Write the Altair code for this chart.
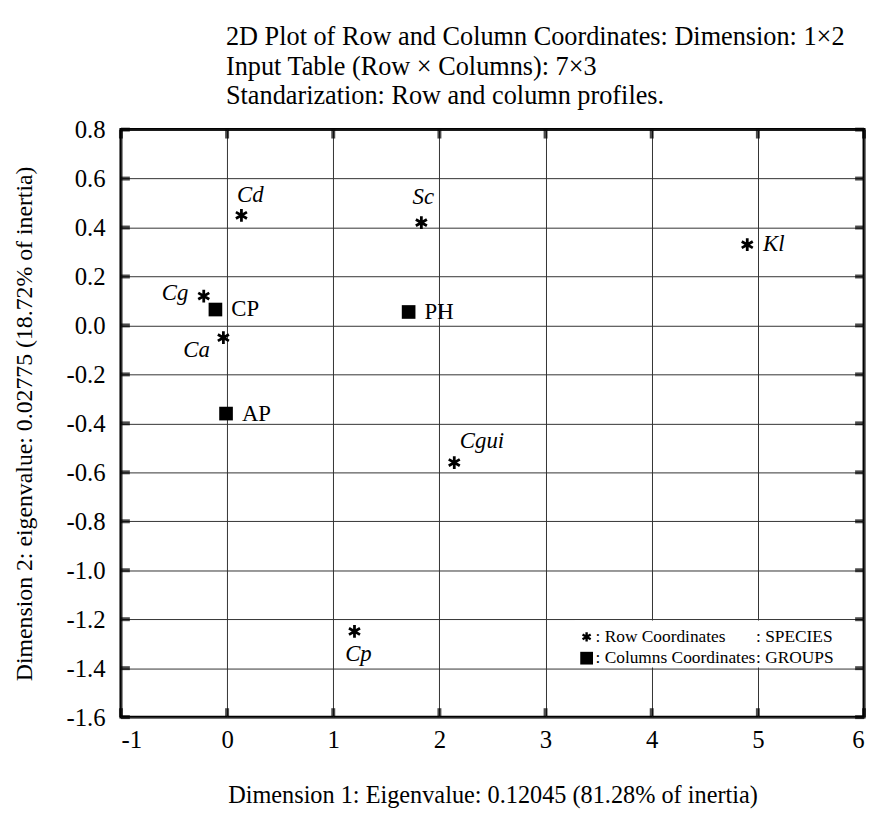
import altair as alt
import pandas as pd

# ---- data ----
species = ["Cd", "Sc", "Kl", "Cg", "Ca", "Cgui", "Cp"]
sp_x = [0.135, 1.83, 4.90, -0.22, -0.035, 2.14, 1.20]
sp_y = [0.45, 0.42, 0.33, 0.12, -0.05, -0.56, -1.25]

groups = ["CP", "PH", "AP"]
gr_x = [-0.11, 1.71, -0.01]
gr_y = [0.065, 0.055, -0.36]

x_ticks = [-1, 0, 1, 2, 3, 4, 5, 6]
y_ticks = [-1.6, -1.4, -1.2, -1.0, -0.8, -0.6, -0.4, -0.2, 0.0, 0.2, 0.4, 0.6, 0.8]

title_lines = [
    "2D Plot of Row and Column Coordinates: Dimension: 1\u00d72",
    "Input Table (Row \u00d7 Columns): 7\u00d73",
    "Standarization: Row and column profiles.",
]
x_title = "Dimension 1: Eigenvalue: 0.12045 (81.28% of inertia)"
y_title = "Dimension 2: eigenvalue: 0.02775 (18.72% of inertia)"
legend_row1 = [": Row Coordinates", ": SPECIES"]
legend_row2 = [": Columns Coordinates", ": GROUPS"]

# ---- layout / style ----
W, H = 750, 593
FONT = "Liberation Serif"
ASTERISK = "M0,-1L0,1M-0.866,-0.5L0.866,0.5M-0.866,0.5L0.866,-0.5"

sp_df = pd.DataFrame({"x": sp_x, "y": sp_y, "name": species})
gr_df = pd.DataFrame({"x": gr_x, "y": gr_y, "name": groups})
xt_df = pd.DataFrame({"x": x_ticks})
yt_df = pd.DataFrame({"y": y_ticks})

xscale = alt.Scale(domain=[-1, 6], nice=False, zero=False)
yscale = alt.Scale(domain=[-1.6, 0.8], nice=False, zero=False)

x_axis = alt.Axis(
    values=x_ticks, grid=True, gridColor="#333", gridWidth=1, gridOpacity=1,
    domain=False, ticks=False, tickSize=0, labelPadding=11,
    labelFont=FONT, labelFontSize=25, labelColor="black",
    labelExpr="(datum.value < 0 ? '-' : '') + format(abs(datum.value), 'd')",
    title=x_title, titleFont=FONT, titleFontSize=24.5, titleFontWeight="normal",
    titleColor="black", titlePadding=31,
)
y_axis = alt.Axis(
    values=y_ticks, grid=True, gridColor="#333", gridWidth=1, gridOpacity=1,
    domain=False, ticks=False, tickSize=0, labelPadding=16,
    labelFont=FONT, labelFontSize=25, labelColor="black",
    labelExpr="(datum.value < -0.001 ? '-' : '') + format(abs(datum.value), '.1f')",
    title=y_title, titleFont=FONT, titleFontSize=24, titleFontWeight="normal",
    titleColor="black", titlePadding=30,
)

X = alt.X("x:Q", scale=xscale, axis=x_axis)
Y = alt.Y("y:Q", scale=yscale, axis=y_axis)

one = pd.DataFrame({"a": [0]})

legend_bg = alt.Chart(one).mark_rect(color="white").encode(
    x=alt.value(458), x2=alt.value(748), y=alt.value(495.5), y2=alt.value(543)
)

tick_style = dict(color="black", thickness=4)
left_ticks = alt.Chart(yt_df).mark_tick(size=9, **tick_style).encode(y=Y, x=alt.value(4.5))
right_ticks = alt.Chart(yt_df).mark_tick(size=9, **tick_style).encode(y=Y, x=alt.value(W - 4.5))
bottom_ticks = alt.Chart(xt_df).mark_tick(size=9, **tick_style).encode(x=X, y=alt.value(H - 4.5))
top_ticks = alt.Chart(xt_df).mark_tick(size=9, **tick_style).encode(x=X, y=alt.value(4.5))

sp_points = alt.Chart(sp_df).mark_point(
    shape=ASTERISK, filled=False, stroke="black", strokeWidth=2.8, size=165, opacity=1
).encode(x=X, y=Y)

gr_points = alt.Chart(gr_df).mark_square(
    color="black", size=190, opacity=1
).encode(x=X, y=Y)

# label offsets in pixels: (dx, dy, align)
sp_label_pos = {
    "Cd": (9, -20, "center"),
    "Sc": (2, -26, "center"),
    "Kl": (16, -1, "left"),
    "Cg": (-29, -3, "center"),
    "Ca": (-27, 12, "center"),
    "Cgui": (28, -22, "center"),
    "Cp": (4, 23, "center"),
}
layers = [legend_bg, left_ticks, right_ticks, bottom_ticks, top_ticks]
for nm, (dx, dy, al) in sp_label_pos.items():
    layers.append(
        alt.Chart(sp_df).transform_filter(alt.datum.name == nm).mark_text(
            font=FONT, fontSize=23, fontStyle="italic", color="black",
            dx=dx, dy=dy, align=al, baseline="middle"
        ).encode(x=X, y=Y, text="name:N")
    )
layers.append(
    alt.Chart(gr_df).mark_text(
        font=FONT, fontSize=23, color="black", dx=16, dy=0,
        align="left", baseline="middle"
    ).encode(x=X, y=Y, text="name:N")
)
layers += [sp_points, gr_points]

# legend
leg_sym1 = alt.Chart(one).mark_point(
    shape=ASTERISK, filled=False, stroke="black", strokeWidth=2.4, size=90, opacity=1
).encode(x=alt.value(470), y=alt.value(512))
leg_sym2 = alt.Chart(one).mark_square(color="black", size=165, opacity=1).encode(
    x=alt.value(470), y=alt.value(533.5))
leg_txt = []
for row, yy in ((legend_row1, 512.5), (legend_row2, 533.5)):
    leg_txt.append(alt.Chart(one).mark_text(
        font=FONT, fontSize=17.5, color="black", align="left", baseline="middle"
    ).encode(x=alt.value(479), y=alt.value(yy), text=alt.value(row[0])))
    leg_txt.append(alt.Chart(one).mark_text(
        font=FONT, fontSize=17.5, color="black", align="left", baseline="middle"
    ).encode(x=alt.value(641), y=alt.value(yy), text=alt.value(row[1])))
layers += [leg_sym1, leg_sym2] + leg_txt

chart = alt.layer(*layers).properties(
    width=W, height=H,
    title=alt.TitleParams(
        text=title_lines, anchor="start", frame="group", dx=106, offset=8,
        font=FONT, fontSize=26.5, fontWeight="normal", color="black", lineHeight=30,
    ),
    autosize=alt.AutoSizeParams(type="none"),
    padding={"left": 114, "top": 119, "right": 3, "bottom": 90},
    background="white",
).configure_view(stroke="black", strokeWidth=3)

chart.save("out.html", embed_options={"renderer": "svg", "actions": False})
